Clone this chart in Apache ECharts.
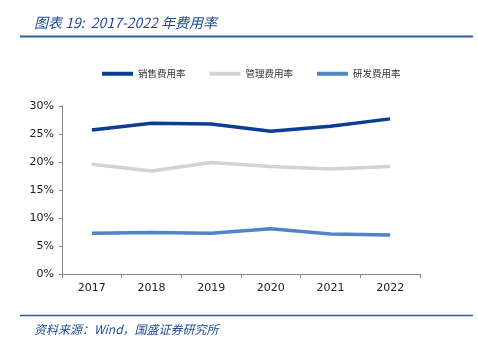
<!DOCTYPE html>
<html><head><meta charset="utf-8">
<script src="https://cdn.jsdelivr.net/npm/echarts@6/dist/echarts.min.js"></script>
<style>html,body{margin:0;padding:0;background:#fff}#c{width:478px;height:355px}</style>
</head><body><div id="c"></div>
<script>
const categories = ['2017','2018','2019','2020','2021','2022'];
const salesRate = [25.7, 26.9, 26.8, 25.5, 26.4, 27.7];
const adminRate = [19.6, 18.4, 19.9, 19.2, 18.75, 19.2];
const rdRate = [7.26, 7.4, 7.26, 8.1, 7.14, 6.96];
const seriesNames = ['销售费用率','管理费用率','研发费用率'];
const colors = ['#0A3E93','#D3D3D3','#4F84C8'];

const chart = echarts.init(document.getElementById('c'));
const cjk = '"Noto Sans CJK SC", sans-serif';
chart.setOption({
  animation: false,
  backgroundColor: '#fff',
  title: [{
    text: '图表 19:  2017-2022 年费用率',
    left: 29, top: 11,
    textStyle: {fontSize: 14, fontStyle: 'italic', fontWeight: 'normal', color: '#1E4A9A', fontFamily: cjk}
  },{
    text: '资料来源：Wind，国盛证券研究所',
    left: 29, top: 318,
    textStyle: {fontSize: 12, fontStyle: 'italic', fontWeight: 'normal', color: '#1E4A9A', fontFamily: cjk}
  }],
  graphic: [
    {type:'line', shape:{x1:20,y1:36.5,x2:473,y2:36.5}, style:{stroke:'#2B5BA8', lineWidth:2}},
    {type:'line', shape:{x1:20,y1:315.5,x2:473,y2:315.5}, style:{stroke:'#2B5BA8', lineWidth:1.5}}
  ],
  legend: {
    top: 64, left: 97,
    itemWidth: 31, itemHeight: 4, itemGap: 24,
    icon: 'rect',
    textStyle: {fontSize: 9.5, color: '#333', fontFamily: cjk},
    data: seriesNames
  },
  grid: {left: 62, right: 58, top: 106, bottom: 81},
  xAxis: {
    type: 'category', data: categories, boundaryGap: true,
    axisLine: {lineStyle: {color: '#888'}},
    axisTick: {show: true, length: 4, lineStyle: {color: '#888'}},
    axisLabel: {fontSize: 11, color: '#222', margin: 9, fontFamily: 'Tahoma, "DejaVu Sans", sans-serif'}
  },
  yAxis: {
    type: 'value', min: 0, max: 30, interval: 5,
    axisLine: {show: true, lineStyle: {color: '#888'}},
    axisTick: {show: true, length: 3, lineStyle: {color: '#888'}},
    splitLine: {show: false},
    axisLabel: {formatter: '{value}%', fontSize: 11, color: '#222', margin: 8, fontFamily: '"DejaVu Sans", sans-serif'}
  },
  series: [
    {name: seriesNames[0], type: 'line', data: salesRate, symbol: 'none', lineStyle: {width: 3.5, color: colors[0]}, itemStyle: {color: colors[0]}},
    {name: seriesNames[1], type: 'line', data: adminRate, symbol: 'none', lineStyle: {width: 3.5, color: colors[1]}, itemStyle: {color: colors[1]}},
    {name: seriesNames[2], type: 'line', data: rdRate, symbol: 'none', lineStyle: {width: 3.5, color: colors[2]}, itemStyle: {color: colors[2]}}
  ]
});
</script></body></html>
